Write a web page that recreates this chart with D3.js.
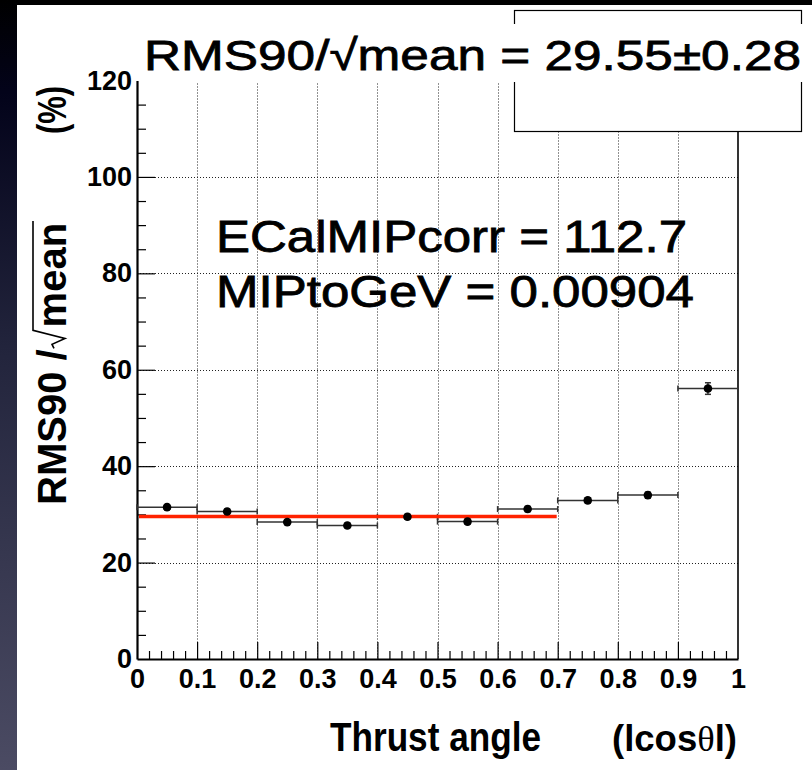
<!DOCTYPE html>
<html><head><meta charset="utf-8">
<script src="https://cdn.jsdelivr.net/npm/d3@7"></script>
<style>html,body{margin:0;padding:0;background:#000;overflow:hidden;} svg{display:block;}</style>
</head><body>
<script>
// ---- data ----
const binCenters = [0.05, 0.15, 0.25, 0.35, 0.45, 0.55, 0.65, 0.75, 0.85, 0.95];
const values     = [31.5, 30.6, 28.4, 27.7, 29.5, 28.5, 31.1, 32.9, 34.0, 56.1];
const yErrors    = [0.5, 0.5, 0.45, 0.45, 0.5, 0.5, 0.55, 0.55, 0.6, 1.2];
const binHalfWidth = 0.05;
const xTicks = [0, 0.1, 0.2, 0.3, 0.4, 0.5, 0.6, 0.7, 0.8, 0.9, 1];
const xTickLabels = ["0", "0.1", "0.2", "0.3", "0.4", "0.5", "0.6", "0.7", "0.8", "0.9", "1"];
const yTicks = [0, 20, 40, 60, 80, 100, 120];
const yTickLabels = ["0", "20", "40", "60", "80", "100", "120"];
const fitValue = 29.55;
const fitRange = [0, 0.7];
const statText = "RMS90/\u221Amean = 29.55\u00B10.28";
const annotations = ["ECalMIPcorr = 112.7", "MIPtoGeV = 0.00904"];

(function () {
// ---- layout ----
const W = 812, H = 770;
const svg = d3.select("body").append("svg").attr("width", W).attr("height", H);
const defs = svg.append("defs");
const grad = defs.append("linearGradient").attr("id", "side").attr("x1", 0).attr("y1", 0).attr("x2", 0).attr("y2", 1);
[[0, "#000000"], [0.12, "#03031a"], [0.45, "#22243c"], [1, "#4b4b63"]].forEach(([o, c]) =>
  grad.append("stop").attr("offset", o).attr("stop-color", c));
svg.append("rect").attr("width", W).attr("height", H).attr("fill", "#000");
svg.append("rect").attr("x", 0).attr("y", 0).attr("width", 17).attr("height", H).attr("fill", "url(#side)");
svg.append("rect").attr("x", 17).attr("y", 5).attr("width", W - 17).attr("height", H - 5).attr("fill", "#fff");

const x = d3.scaleLinear().domain([0, 1]).range([137, 738]);
const y = d3.scaleLinear().domain([0, 120]).range([659, 80.5]);

const FONT = "'Liberation Sans', Arial, Helvetica, sans-serif";

// grid
const grid = svg.append("g").attr("stroke", "#222").attr("stroke-width", 1).attr("stroke-dasharray", "1 2");
grid.selectAll("line.v").data(xTicks.slice(1, -1)).join("line")
  .attr("x1", d => Math.round(x(d)) + 0.5).attr("x2", d => Math.round(x(d)) + 0.5)
  .attr("y1", y(120)).attr("y2", y(0));
grid.selectAll("line.h").data(yTicks.slice(1, -1)).join("line")
  .attr("y1", d => Math.round(y(d)) + 0.5).attr("y2", d => Math.round(y(d)) + 0.5)
  .attr("x1", x(0)).attr("x2", x(1));

// minor ticks
const yMinor = d3.range(0, 121, 5).filter(v => v % 20 !== 0);
const xMinor = d3.range(0, 51, 1).map(i => i / 50).filter(v => Math.abs(v * 10 - Math.round(v * 10)) > 1e-6);

const yAxisMinor = svg.append("g").attr("transform", `translate(${x(0)},0)`)
  .call(d3.axisLeft(y).tickValues(yMinor).tickSize(-9).tickSizeOuter(0).tickFormat(""));
const xAxisMinor = svg.append("g").attr("transform", `translate(0,${y(0)})`)
  .call(d3.axisBottom(x).tickValues(xMinor).tickSize(-8).tickSizeOuter(0).tickFormat(""));
[yAxisMinor, xAxisMinor].forEach(g => { g.select(".domain").remove(); g.selectAll("line").attr("stroke", "#000").attr("stroke-width", 1.2); });

const yAxis = svg.append("g").attr("transform", `translate(${x(0)},0)`)
  .call(d3.axisLeft(y).tickValues(yTicks).tickSize(-18).tickSizeOuter(0).tickPadding(5)
    .tickFormat((d, i) => yTickLabels[i]));
const xAxis = svg.append("g").attr("transform", `translate(0,${y(0)})`)
  .call(d3.axisBottom(x).tickValues(xTicks).tickSize(-17).tickSizeOuter(0).tickPadding(10)
    .tickFormat((d, i) => xTickLabels[i]));
[yAxis, xAxis].forEach(g => {
  g.select(".domain").attr("stroke", "#000").attr("stroke-width", 2.2);
  g.selectAll(".tick line").attr("stroke", "#000").attr("stroke-width", 1.2);
  g.selectAll("text").attr("font-family", FONT).attr("font-weight", "bold").attr("font-size", 27).attr("fill", "#000");
});
yAxis.selectAll(".tick").filter(d => d === 0 || d === 120).select("line").remove();
xAxis.selectAll(".tick").filter(d => d === 0 || d === 1).select("line").remove();
xAxis.selectAll("text").attr("dy", "0.72em");

// right axis line
svg.append("line").attr("x1", x(1)).attr("x2", x(1)).attr("y1", y(120)).attr("y2", y(0))
  .attr("stroke", "#000").attr("stroke-width", 1.6);

// data: horizontal error bars
const pts = binCenters.map((c, i) => ({ c, v: values[i], e: yErrors[i] }));
const eb = svg.append("g").attr("stroke", "#333").attr("stroke-width", 1.5);
eb.selectAll("line.h").data(pts).join("line")
  .attr("x1", d => x(d.c - binHalfWidth)).attr("x2", d => x(d.c + binHalfWidth))
  .attr("y1", d => y(d.v)).attr("y2", d => y(d.v));
eb.selectAll("line.l").data(pts).join("line")
  .attr("x1", d => x(d.c - binHalfWidth)).attr("x2", d => x(d.c - binHalfWidth))
  .attr("y1", d => y(d.v) - 3).attr("y2", d => y(d.v) + 3);
eb.selectAll("line.r").data(pts).join("line")
  .attr("x1", d => x(d.c + binHalfWidth)).attr("x2", d => x(d.c + binHalfWidth))
  .attr("y1", d => y(d.v) - 3).attr("y2", d => y(d.v) + 3);
eb.selectAll("line.vv").data(pts).join("line")
  .attr("x1", d => x(d.c)).attr("x2", d => x(d.c))
  .attr("y1", d => y(d.v - d.e)).attr("y2", d => y(d.v + d.e));
eb.selectAll("line.ct").data(pts).join("line")
  .attr("x1", d => x(d.c) - 3).attr("x2", d => x(d.c) + 3)
  .attr("y1", d => y(d.v + d.e)).attr("y2", d => y(d.v + d.e));
eb.selectAll("line.cb").data(pts).join("line")
  .attr("x1", d => x(d.c) - 3).attr("x2", d => x(d.c) + 3)
  .attr("y1", d => y(d.v - d.e)).attr("y2", d => y(d.v - d.e));

// fit line
svg.append("line").attr("x1", x(fitRange[0]) + 2).attr("x2", x(fitRange[1]) - 1)
  .attr("y1", y(fitValue)).attr("y2", y(fitValue))
  .attr("stroke", "#ff2200").attr("stroke-width", 3.6);

// markers
svg.append("g").selectAll("circle").data(pts).join("circle")
  .attr("cx", d => x(d.c)).attr("cy", d => y(d.v)).attr("r", 4.3).attr("fill", "#000");

// stat box
svg.append("rect").attr("x", 514.5).attr("y", 10.5).attr("width", 287).attr("height", 121)
  .attr("fill", "#fff").attr("stroke", "#000").attr("stroke-width", 1.2);
svg.append("rect").attr("x", 141).attr("y", 24).attr("width", 668).attr("height", 58).attr("fill", "#fff");
svg.append("text").attr("x", 144).attr("y", 70).attr("font-family", FONT).attr("font-size", 43)
  .attr("stroke", "#000").attr("stroke-width", 0.8)
  .attr("textLength", 657).attr("lengthAdjust", "spacingAndGlyphs").attr("fill", "#000").text(statText);

// annotations
const annY = [252, 307], annLen = [471, 478];
annotations.forEach((s, i) => {
  svg.append("text").attr("x", 216).attr("y", annY[i]).attr("font-family", FONT).attr("font-size", 44)
    .attr("stroke", "#000").attr("stroke-width", 0.8)
    .attr("textLength", annLen[i]).attr("lengthAdjust", "spacingAndGlyphs").attr("fill", "#000").text(s);
});

// x title
svg.append("text").attr("x", 330).attr("y", 751).attr("font-family", FONT).attr("font-weight", "bold")
  .attr("font-size", 40).attr("textLength", 211).attr("lengthAdjust", "spacingAndGlyphs").text("Thrust angle");
const xt2 = svg.append("text").attr("x", 612).attr("y", 751).attr("font-family", FONT).attr("font-weight", "bold")
  .attr("font-size", 36.5);
xt2.append("tspan").text("(lcos");
xt2.append("tspan").attr("font-weight", "normal").attr("font-family", "'Liberation Serif', serif").text("\u03B8");
xt2.append("tspan").text("l)");

// y title
const gT = svg.append("g").attr("transform", "translate(66,0) rotate(-90)");
const fs = 40;
const t1 = gT.append("text").attr("x", -505).attr("y", 0).attr("font-family", FONT).attr("font-weight", "bold")
  .attr("font-size", fs).text("RMS90 / ");
const w1 = t1.node().getComputedTextLength();
const radW = 22;
const mx = -505 + w1 + radW;
const t2 = gT.append("text").attr("x", mx).attr("y", 0).attr("font-family", FONT).attr("font-weight", "bold")
  .attr("font-size", fs).text("mean");
const w2 = t2.node().getComputedTextLength();
const ovl = -33;
gT.append("path").attr("fill", "none").attr("stroke", "#000").attr("stroke-width", 1.6)
  .attr("d", `M${mx - radW + 1},${-12} L${mx - radW + 5},${-14} L${mx - radW + 11},${-1} L${mx - 3},${ovl} L${mx + w2 + 2},${ovl}`);
gT.append("text").attr("x", -134).attr("y", 0).attr("font-family", FONT).attr("font-weight", "bold")
  .attr("font-size", fs).attr("textLength", 48).attr("lengthAdjust", "spacingAndGlyphs").text("(%)");
})();
</script>
</body></html>
